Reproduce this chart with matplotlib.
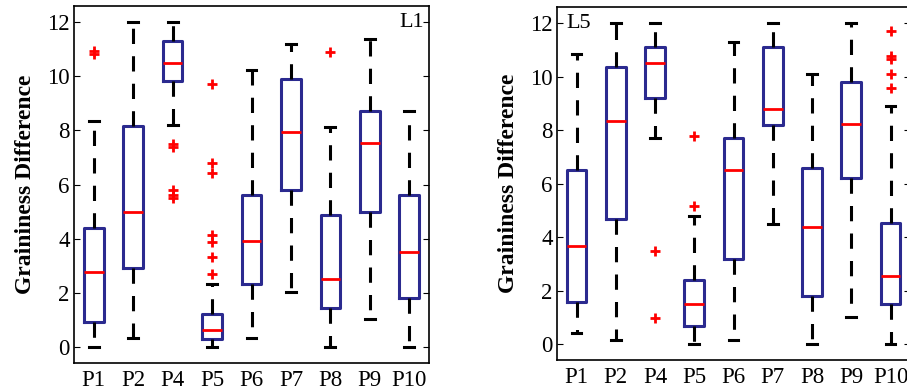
import numpy as np
import matplotlib.pyplot as plt

plt.rcParams['font.family'] = ['Liberation Serif', 'DejaVu Serif']

labels = ['P1', 'P2', 'P4', 'P5', 'P6', 'P7', 'P8', 'P9', 'P10']

# L1 panel: lower cap, q1, median, q3, upper cap, outliers
l1_lo = [0.0, 0.31, 8.2, 0.0, 0.31, 2.01, 0.0, 1.01, 0.0]
l1_q1 = [0.90, 2.9, 9.81, 0.28, 2.31, 5.80, 1.42, 5.0, 1.82]
l1_med = [2.76, 5.0, 10.5, 0.62, 3.9, 7.95, 2.51, 7.55, 3.5]
l1_q3 = [4.41, 8.16, 11.31, 1.21, 5.61, 9.91, 4.89, 8.70, 5.61]
l1_hi = [8.34, 12.0, 12.0, 2.31, 10.22, 11.21, 8.11, 11.39, 8.70]
l1_out = [[10.82, 10.92], [], [7.4, 7.5, 5.81, 5.5, 5.6],
          [9.7, 6.81, 6.43, 4.13, 3.89, 3.31, 2.69], [], [], [10.91], [], []]

# L5 panel
l5_lo = [0.40, 0.17, 7.72, 0.0, 0.17, 4.48, 0.0, 1.01, 0.0]
l5_q1 = [1.58, 4.68, 9.19, 0.67, 3.19, 8.18, 1.81, 6.19, 1.49]
l5_med = [3.68, 8.34, 10.51, 1.49, 6.50, 8.80, 4.38, 8.24, 2.54]
l5_q3 = [6.50, 10.36, 11.10, 2.40, 7.72, 11.09, 6.60, 9.81, 4.51]
l5_hi = [10.83, 12.0, 12.0, 4.79, 11.29, 12.0, 10.10, 12.0, 8.89]
l5_out = [[], [], [3.49, 0.98], [7.78, 5.17], [], [], [], [],
          [11.70, 10.76, 10.67, 10.08, 9.57]]

box_col = '#2b2a8f'


def panel(ax, lo, q1, med, q3, hi, out, tag, tag_x, tag_ha):
    stats = []
    for i in range(len(labels)):
        stats.append(dict(whislo=lo[i], q1=q1[i], med=med[i], q3=q3[i],
                          whishi=hi[i], fliers=out[i], label=labels[i]))
    ax.bxp(stats, widths=0.5, capwidths=0.25, showfliers=True,
           boxprops=dict(color=box_col, linewidth=2.2),
           medianprops=dict(color='red', linewidth=2),
           whiskerprops=dict(color='black', linewidth=2.2, linestyle=(0, (5, 4))),
           capprops=dict(color='black', linewidth=2.2),
           flierprops=dict(marker='+', markeredgecolor='red', markersize=7,
                           markeredgewidth=2, linestyle='none'))
    ax.set_xlim(0.5, 9.5)
    ax.set_ylim(-0.6, 12.6)
    ax.set_yticks([0, 2, 4, 6, 8, 10, 12])
    ax.tick_params(axis='y', direction='in', right=True, length=4,
                   labelsize=16.5, pad=3)
    ax.tick_params(axis='x', length=0, labelsize=16.5, pad=5)
    ax.set_ylabel('Graininess Difference', fontsize=17, fontweight='bold',
                  labelpad=8)
    for s in ax.spines.values():
        s.set_linewidth(1.2)
    ax.text(tag_x, 12.0, tag, fontsize=16, ha=tag_ha, va='center')


fig = plt.figure(figsize=(9.07, 3.91), dpi=100)
ax1 = fig.add_axes([0.0816, 0.0716, 0.3914, 0.913])
ax2 = fig.add_axes([0.614, 0.079, 0.3895, 0.903])

panel(ax1, l1_lo, l1_q1, l1_med, l1_q3, l1_hi, l1_out, 'L1', 9.38, 'right')
panel(ax2, l5_lo, l5_q1, l5_med, l5_q3, l5_hi, l5_out, 'L5', 0.75, 'left')

fig.savefig('out.png', dpi=100)
